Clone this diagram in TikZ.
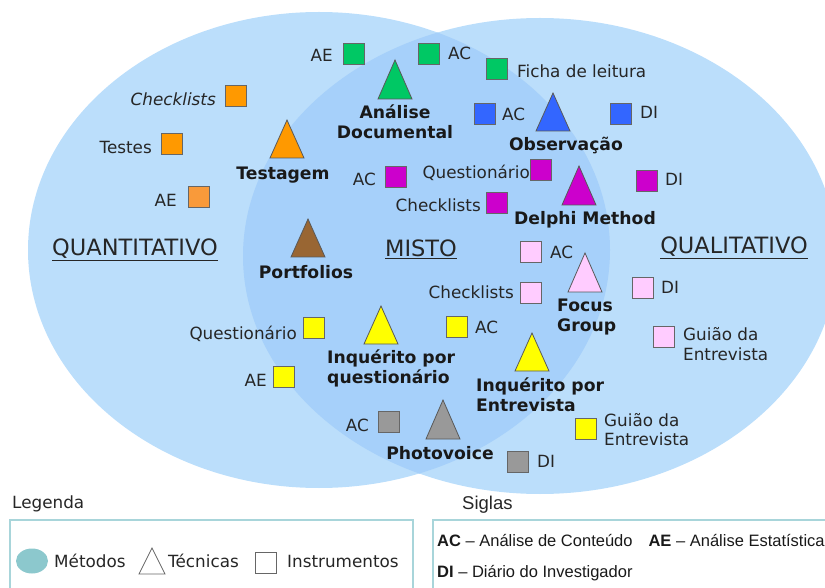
\documentclass[tikz,border=0pt]{standalone}
\usepackage{fontspec}
\setmainfont{DejaVu Sans}
\newfontfamily\arialf{Liberation Sans}
\definecolor{outerblue}{RGB}{187,222,251}
\definecolor{innerblue}{RGB}{166,208,250}
\definecolor{cgreen}{RGB}{0,200,100}
\definecolor{corange}{RGB}{255,153,0}
\definecolor{corangel}{RGB}{249,154,58}
\definecolor{cblue}{RGB}{51,102,255}
\definecolor{cmag}{RGB}{204,0,204}
\definecolor{cbrown}{RGB}{153,102,51}
\definecolor{cpink}{RGB}{255,204,255}
\definecolor{cyellow}{RGB}{255,255,0}
\definecolor{cgray}{RGB}{153,153,153}
\definecolor{txt}{RGB}{38,38,38}
\definecolor{legborder}{RGB}{168,213,218}
\definecolor{legteal}{RGB}{140,200,205}
\newcommand{\lblfont}{\fontsize{16.8}{19.5}\selectfont}
\newcommand{\techfont}{\fontsize{17.2}{19.8}\selectfont\bfseries}
\tikzset{
  sq/.style={draw=black!60, line width=0.8pt, minimum size=20.5pt, inner sep=0pt, outer sep=0pt},
  lbl/.style={font=\lblfont, text=txt, inner sep=0pt, text height=12.2pt, text depth=0pt},
  lblm/.style={font=\lblfont, text=txt, inner sep=0pt, align=left},
  tech/.style={font=\techfont, text=black!90, inner sep=0pt, text height=12.5pt, text depth=0pt},
  techm/.style={font=\techfont, text=black!90, inner sep=0pt},
  tri/.style={draw=black!65, line width=0.8pt, line join=miter},
  cat/.style={font=\fontsize{22.5}{26}\selectfont, text=txt, inner sep=0pt},
}
\newcommand{\tecnica}[3]{% apex name, colour, base offset
  \draw[tri, fill=#2] (#1) -- ++(17,#3) -- ++(-34,0) -- cycle;}
\begin{document}
\begin{tikzpicture}[x=1pt,y=-1pt]
\useasboundingbox (0,0) rectangle (825,588);
\clip (0,0) rectangle (825,588);
% methods (ellipses)
\fill[outerblue] (319,250) ellipse [x radius=291pt, y radius=238pt];
\fill[outerblue] (540,256) ellipse [x radius=297pt, y radius=238pt];
\begin{scope}
  \clip (319,250) ellipse [x radius=291pt, y radius=238pt];
  \fill[innerblue] (540,256) ellipse [x radius=297pt, y radius=238pt];
\end{scope}
\node[cat] (quant) at (135,250) {\underline{QUANTITATIVO}};
\node[cat] (misto) at (421,249) {\underline{MISTO}};
\node[cat] (qual) at (734,248) {\underline{QUALITATIVO}};

% ---- Analise Documental (green)
\coordinate (tAD) at (395,60);
\tecnica{tAD}{cgreen}{39}
\node[techm, anchor=north, align=center] (lAD) at (395,104.5) {Análise\\Documental};
\node[sq, fill=cgreen] (gAE) at (354,54) {};
\node[lbl, anchor=east] (lgAE) at (333,55) {AE};
\node[sq, fill=cgreen] (gAC) at (429,54) {};
\node[lbl, anchor=west] (lgAC) at (448,53) {AC};
\node[sq, fill=cgreen] (gFL) at (497,69) {};
\node[lbl, anchor=west] (lgFL) at (517,71) {Ficha de leitura};

% ---- Testagem (orange)
\coordinate (tTe) at (287,120);
\tecnica{tTe}{corange}{38}
\node[tech] (lTe) at (283,173) {Testagem};
\node[sq, fill=corange] (oCL) at (236,96) {};
\node[lbl, anchor=east] (loCL) at (216,99) {\itshape Checklists};
\node[sq, fill=corange] (oTe) at (172,144) {};
\node[lbl, anchor=east] (loTe) at (152,147) {Testes};
\node[sq, fill=corangel] (oAE) at (199,197) {};
\node[lbl, anchor=east] (loAE) at (177,200) {AE};

% ---- Observacao (blue)
\coordinate (tOb) at (553,93);
\tecnica{tOb}{cblue}{38}
\node[tech] (lOb) at (566,144) {Observação};
\node[sq, fill=cblue] (bAC) at (485,114) {};
\node[lbl, anchor=west] (lbAC) at (502,114) {AC};
\node[sq, fill=cblue] (bDI) at (621,114) {};
\node[lbl, anchor=west] (lbDI) at (640,112) {DI};

% ---- Delphi Method (magenta)
\coordinate (tDe) at (579,166);
\tecnica{tDe}{cmag}{39}
\node[tech] (lDe) at (585,218) {Delphi Method};
\node[sq, fill=cmag] (mAC) at (396,177) {};
\node[lbl, anchor=east] (lmAC) at (376,179) {AC};
\node[sq, fill=cmag] (mQ) at (541,170) {};
\node[lbl, anchor=east] (lmQ) at (530,172) {Questionário};
\node[sq, fill=cmag] (mCL) at (497,203) {};
\node[lbl, anchor=east] (lmCL) at (481,205) {Checklists};
\node[sq, fill=cmag] (mDI) at (647,181) {};
\node[lbl, anchor=west] (lmDI) at (665,179) {DI};

% ---- Portfolios (brown)
\coordinate (tPo) at (308,219);
\tecnica{tPo}{cbrown}{38}
\node[tech] (lPo) at (306,272) {Portfolios};

% ---- Focus Group (pink)
\coordinate (tFG) at (585,253);
\tecnica{tFG}{cpink}{39}
\node[techm, anchor=north west, align=left] (lFG) at (557,298.5) {Focus\\Group};
\node[sq, fill=cpink] (pAC) at (531,252) {};
\node[lbl, anchor=west] (lpAC) at (550,252) {AC};
\node[sq, fill=cpink] (pCL) at (531,293) {};
\node[lbl, anchor=east] (lpCL) at (514,292) {Checklists};
\node[sq, fill=cpink] (pDI) at (643,288) {};
\node[lbl, anchor=west] (lpDI) at (661,287) {DI};
\node[sq, fill=cpink] (pGE) at (664,337) {};
\node[lblm, anchor=north west] (lpGE) at (683,327.5) {Guião da\\Entrevista};

% ---- Inquerito por questionario (yellow)
\coordinate (tIQ) at (381,306);
\tecnica{tIQ}{cyellow}{38}
\node[techm, anchor=north west, align=left] (lIQ) at (327,349.5) {Inquérito por\\questionário};
\node[sq, fill=cyellow] (yQ) at (314,328) {};
\node[lbl, anchor=east] (lyQ) at (297,333) {Questionário};
\node[sq, fill=cyellow] (yAE) at (284,377) {};
\node[lbl, anchor=east] (lyAE) at (267,380) {AE};

% ---- Inquerito por Entrevista (yellow)
\coordinate (tIE) at (532,333);
\tecnica{tIE}{cyellow}{38}
\node[techm, anchor=north west, align=left] (lIE) at (476,377.5) {Inquérito por\\Entrevista};
\node[sq, fill=cyellow] (yAC) at (457,327) {};
\node[lbl, anchor=west] (lyAC) at (475,327) {AC};
\node[sq, fill=cyellow] (yGE) at (586,429) {};
\node[lblm, anchor=north west] (lyGE) at (604,413) {Guião da\\Entrevista};

% ---- Photovoice (gray)
\coordinate (tPh) at (443,400);
\tecnica{tPh}{cgray}{39}
\node[tech] (lPh) at (440,453) {Photovoice};
\node[sq, fill=cgray] (gyAC) at (389,422) {};
\node[lbl, anchor=east] (lgyAC) at (369,425) {AC};
\node[sq, fill=cgray] (gyDI) at (518,462) {};
\node[lbl, anchor=west] (lgyDI) at (537,461) {DI};

% ---- Legenda
\node[lbl, anchor=west] (legT) at (12,502) {Legenda};
\draw[legborder, line width=1.2pt] (10,520) rectangle (413,600);
\fill[legteal] (32,561) ellipse [x radius=16pt, y radius=12.5pt];
\node[lbl, anchor=west] (legM) at (54,561) {Métodos};
\coordinate (legTri) at (152,548);
\draw[draw=black!60, line width=0.8pt, fill=white] (legTri) -- ++(13,26) -- ++(-26,0) -- cycle;
\node[lbl, anchor=west] (legTe) at (168,561) {Técnicas};
\node[sq, fill=white, minimum size=21pt] (legSq) at (265.5,562.5) {};
\node[lbl, anchor=west] (legI) at (287,561) {Instrumentos};

% ---- Siglas
\node[font=\arialf\fontsize{18.5}{22}\selectfont, text=txt, inner sep=0pt, anchor=west] (sigT) at (462,505) {Siglas};
\draw[legborder, line width=1.2pt] (433,520) rectangle (840,600);
\node[font=\arialf\fontsize{16.5}{19}\selectfont, text=black!90, inner sep=0pt, anchor=west] (sig1) at (437,541) {\textbf{AC} – Análise de Conteúdo\hspace{16pt}\textbf{AE} – Análise Estatística};
\node[font=\arialf\fontsize{16.5}{19}\selectfont, text=black!90, inner sep=0pt, anchor=west] (sig2) at (437,573) {\textbf{DI} – Diário do Investigador};
\end{tikzpicture}
\end{document}
